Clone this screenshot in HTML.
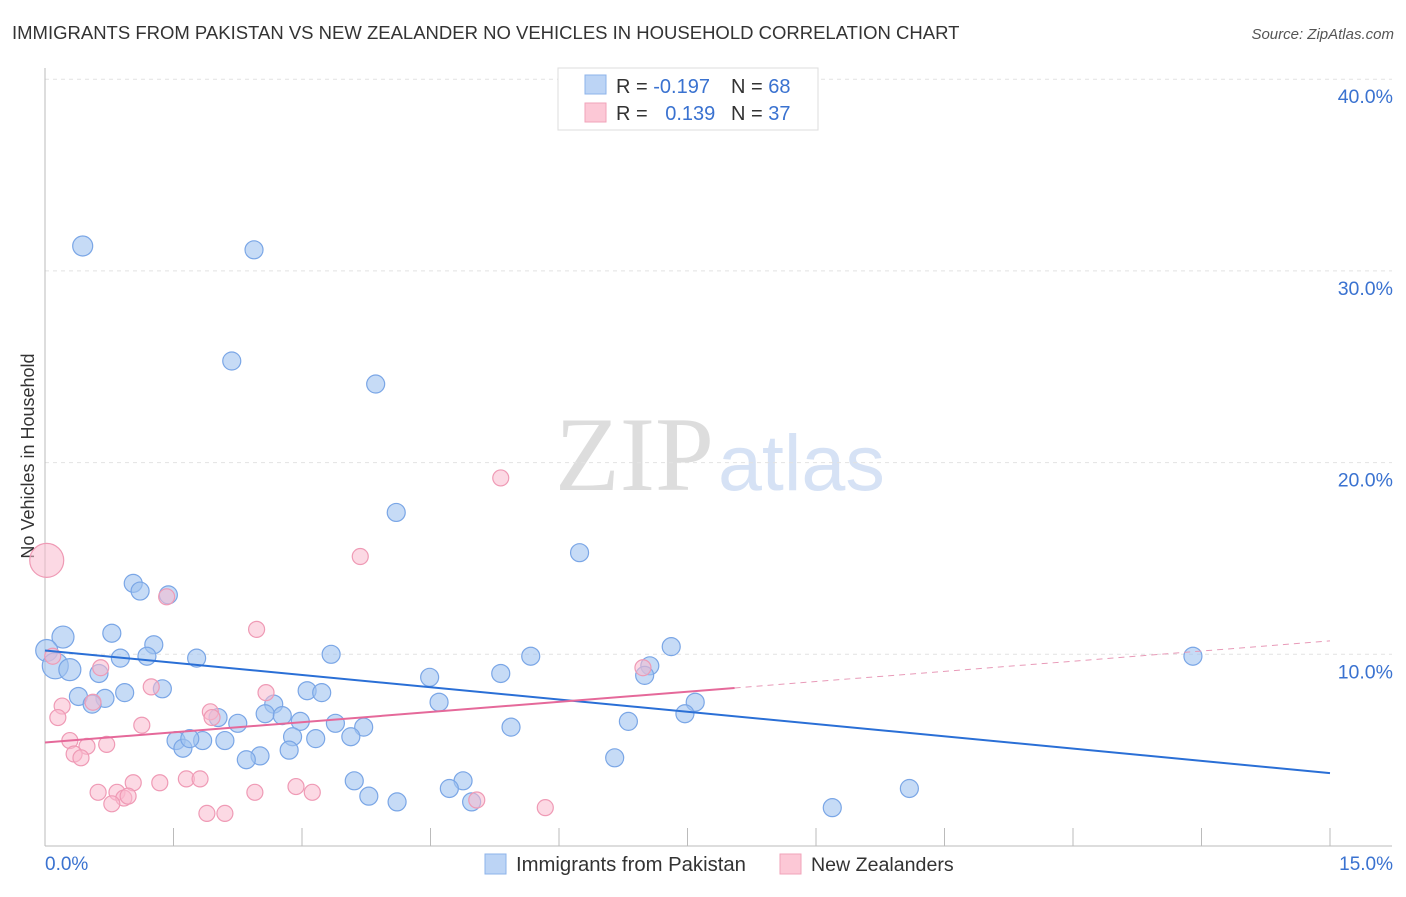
<!DOCTYPE html>
<html><head><meta charset="utf-8"><style>
body{margin:0;background:#fff;font-family:"Liberation Sans",sans-serif}
</style></head><body>
<svg id="c" width="1406" height="892" xmlns="http://www.w3.org/2000/svg" font-family="Liberation Sans, sans-serif">
<text x="12" y="39" font-size="18.5" fill="#333">IMMIGRANTS FROM PAKISTAN VS NEW ZEALANDER NO VEHICLES IN HOUSEHOLD CORRELATION CHART</text>
<text x="1394" y="39" font-size="15" fill="#555" font-style="italic" text-anchor="end">Source: ZipAtlas.com</text>
<text x="714" y="490" font-size="106" fill="#ddd" text-anchor="end" font-family="Liberation Serif, serif">ZIP</text>
<text x="718" y="490" font-size="79" fill="#d6e2f5">atlas</text>
<text transform="translate(34,456) rotate(-90)" font-size="18" fill="#333" text-anchor="middle">No Vehicles in Household</text>
<g id="grid"></g><g id="marks"></g>
<g>
<rect x="558" y="68" width="260" height="62" fill="#fff" stroke="#ddd"/>
<rect x="585" y="75" width="21" height="19" fill="#bcd4f5" stroke="#8db3ea"/>
<rect x="585" y="103" width="21" height="19" fill="#fcc8d6" stroke="#f1a3ba"/>
<text x="616" y="93" font-size="20" fill="#333">R = <tspan fill="#3a72d0">-0.197</tspan></text>
<text x="731" y="93" font-size="20" fill="#333">N = <tspan fill="#3a72d0">68</tspan></text>
<text x="616" y="120" font-size="20" fill="#333">R = <tspan fill="#3a72d0" dx="12">0.139</tspan></text>
<text x="731" y="120" font-size="20" fill="#333">N = <tspan fill="#3a72d0">37</tspan></text>
</g>
<g>
<rect x="485" y="854" width="21" height="20" fill="#bcd4f5" stroke="#8db3ea"/>
<text x="516" y="871" font-size="20.3" fill="#333">Immigrants from Pakistan</text>
<rect x="780" y="854" width="21" height="20" fill="#fcc8d6" stroke="#f1a3ba"/>
<text x="811" y="871" font-size="19.6" fill="#333">New Zealanders</text>
</g>
</svg>
<script>
const yTicks=[10,20,30,40];
const yTickLabels=["10.0%","20.0%","30.0%","40.0%"];
const xTicks=[0,1.5,3,4.5,6,7.5,9,10.5,12,13.5,15];
const blueX=[0.44,2.44,2.18,3.86,4.10,6.24,1.03,1.11,1.44,0.21,0.78,1.27,0.02,0.12,0.29,0.88,1.19,1.77,3.34,5.67,7.31,5.32,7.06,7.00,4.49,13.40,0.39,0.63,0.93,0.70,0.55,1.37,2.67,3.06,3.23,4.60,7.59,7.47,6.81,5.44,2.02,2.25,2.57,2.77,2.98,3.39,3.72,3.57,1.53,1.61,1.84,2.10,1.69,2.89,3.16,2.85,2.51,2.35,6.65,3.61,4.88,4.72,3.78,4.11,4.98,9.19,10.09];
const blueY=[31.3,31.1,25.3,24.1,17.4,15.3,13.7,13.3,13.1,10.9,11.1,10.5,10.2,9.4,9.2,9.8,9.9,9.8,10.0,9.9,10.4,9.0,9.4,8.9,8.8,9.9,7.8,9.0,8.0,7.7,7.4,8.2,7.4,8.1,8.0,7.5,7.5,6.9,6.5,6.2,6.7,6.4,6.9,6.8,6.5,6.4,6.2,5.7,5.5,5.1,5.5,5.5,5.6,5.7,5.6,5.0,4.7,4.5,4.6,3.4,3.4,3.0,2.6,2.3,2.3,2.0,3.0];
const blueR=[10,9,9,9,9,9,9,9,9,11,9,9,11,13,11,9,9,9,9,9,9,9,9,9,9,9,9,9,9,9,9,9,9,9,9,9,9,9,9,9,9,9,9,9,9,9,9,9,9,9,9,9,9,9,9,9,9,9,9,9,9,9,9,9,9,9,9];
const pinkX=[0.02,5.32,3.68,1.42,2.47,0.09,0.65,1.24,2.58,0.20,0.56,1.93,0.15,1.13,0.29,0.49,0.72,0.34,0.42,6.98,1.95,1.03,1.34,1.65,1.81,2.93,2.45,3.12,0.62,0.84,0.92,0.97,0.78,1.89,2.10,5.04,5.84];
const pinkY=[14.9,19.2,15.1,13.0,11.3,9.9,9.3,8.3,8.0,7.3,7.5,7.0,6.7,6.3,5.5,5.2,5.3,4.8,4.6,9.3,6.7,3.3,3.3,3.5,3.5,3.1,2.8,2.8,2.8,2.8,2.5,2.6,2.2,1.7,1.7,2.4,2.0];
const blueTrend=[[0,10.2],[15,3.8]];
const pinkTrend=[[0,5.4],[15,10.7]];
const pinkSolidEnd=8.05;
const NS="http://www.w3.org/2000/svg";
const sx=v=>45+v*(1285/15), sy=v=>846-v*19.17;
function mk(t,a,p){const e=document.createElementNS(NS,t);for(const k in a)e.setAttribute(k,a[k]);p.appendChild(e);return e;}
const g=document.getElementById('grid'), m=document.getElementById('marks');
yTicks.forEach((t,i)=>{
 const l=mk('line',{x1:45,x2:1392,y1:sy(t),y2:sy(t),stroke:'#e2e2e2','stroke-dasharray':'4,4'},g);
 
 
 const tx=mk('text',{x:1393,y:sy(t)+24,'font-size':19.5,fill:'#3a72d0','text-anchor':'end'},g);
 tx.textContent=yTickLabels[i];
 
 
});
const ax=mk('line',{x1:45,x2:45,y1:68,y2:846,stroke:'#bbb'},g);


const xa=mk('line',{x1:45,x2:1392,y1:846,y2:846,stroke:'#bbb'},g);


xTicks.forEach(t=>{const l=mk('line',{x1:sx(t),x2:sx(t),y1:828,y2:846,stroke:'#bbb'},g);
 
 });
[[0,"0.0%",'start',45],[15,"15.0%",'end',1393]].forEach(d=>{const t=mk('text',{x:d[3],y:870,'font-size':19,fill:'#3a72d0','text-anchor':d[2]},g);t.textContent=d[1];
 
 });
blueX.forEach((x,i)=>{const c=mk('circle',{cx:sx(x),cy:sy(blueY[i]),r:blueR[i],fill:'rgba(160,195,240,0.6)',stroke:'#7aa6e6','stroke-width':1.2},m);
 
 });
pinkX.forEach((x,i)=>{const c=mk('circle',{cx:sx(x),cy:sy(pinkY[i]),r:i==0?17:8,fill:'rgba(250,185,205,0.55)',stroke:'#ef9ab5','stroke-width':1.2},m);
 
 });
const bl=mk('line',{x1:sx(blueTrend[0][0]),y1:sy(blueTrend[0][1]),x2:sx(blueTrend[1][0]),y2:sy(blueTrend[1][1]),stroke:'#2a6fd6','stroke-width':2},m);


const py=x=>pinkTrend[0][1]+(pinkTrend[1][1]-pinkTrend[0][1])*(x-pinkTrend[0][0])/(pinkTrend[1][0]-pinkTrend[0][0]);
const pl=mk('line',{x1:sx(0),y1:sy(py(0)),x2:sx(pinkSolidEnd),y2:sy(py(pinkSolidEnd)),stroke:'#e5699a','stroke-width':2},m);


const pd=mk('line',{x1:sx(pinkSolidEnd),y1:sy(py(pinkSolidEnd)),x2:sx(15),y2:sy(py(15)),stroke:'#e89ab8','stroke-width':1,'stroke-dasharray':'6,5'},m);


</script>
</body></html>
